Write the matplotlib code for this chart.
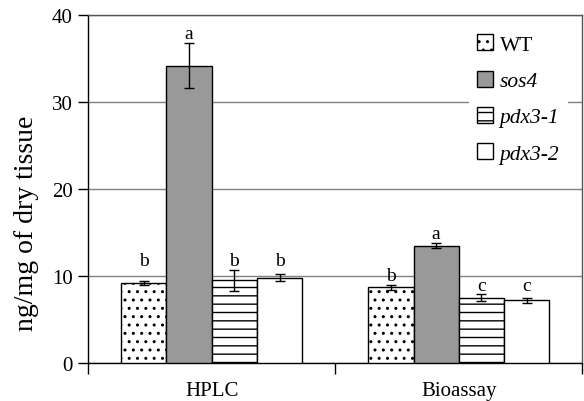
import numpy as np
import matplotlib.pyplot as plt

plt.rcParams['font.family'] = 'Liberation Serif'
plt.rcParams['hatch.linewidth'] = 1.0

groups = ['HPLC', 'Bioassay']
lines = ['WT', 'sos4', 'pdx3-1', 'pdx3-2']
means = {
    'WT':     [9.2, 8.7],
    'sos4':   [34.2, 13.5],
    'pdx3-1': [9.5, 7.5],
    'pdx3-2': [9.8, 7.2],
}
errs = {
    'WT':     [0.2, 0.25],
    'sos4':   [2.6, 0.3],
    'pdx3-1': [1.2, 0.4],
    'pdx3-2': [0.4, 0.25],
}
letters = {
    'WT':     ['b', 'b'],
    'sos4':   ['a', 'a'],
    'pdx3-1': ['b', 'c'],
    'pdx3-2': ['b', 'c'],
}

styles = {
    'WT':     dict(facecolor='white', hatch='..'),
    'sos4':   dict(facecolor='#999999', hatch=None),
    'pdx3-1': dict(facecolor='white', hatch='--'),
    'pdx3-2': dict(facecolor='white', hatch=None),
}

fig = plt.figure(figsize=(5.84, 4.02), dpi=100)
ax = fig.add_axes([0.151, 0.0945, 0.846, 0.8655])

centers = np.arange(len(groups)) + 0.5
width = 0.183

# letters sharing a group sit on one level, just above the tallest error bar
tops = {}
for g in range(len(groups)):
    for name in lines:
        key = (g, letters[name][g])
        top = means[name][g] + errs[name][g]
        tops[key] = max(tops.get(key, 0), top)

for i, name in enumerate(lines):
    x = centers + (i - 1.5) * width
    ax.bar(x, means[name], width, edgecolor='black', linewidth=1,
           label=name, zorder=3, **styles[name])
    ax.errorbar(x, means[name], yerr=errs[name], fmt='none', ecolor='black',
                elinewidth=1, capsize=3.5, capthick=1, zorder=4)
    for g, (xi, t) in enumerate(zip(x, letters[name])):
        ax.text(xi, tops[(g, t)] + 0.55, t, ha='center', va='baseline',
                fontsize=14)

ax.set_xlim(0, 2)
ax.set_ylim(0, 40)
ax.set_yticks([0, 10, 20, 30, 40])
ax.tick_params(axis='y', labelsize=15, length=7, width=1, direction='out',
               pad=4)
ax.set_xticks(centers)
ax.set_xticklabels(groups, fontsize=15)
ax.tick_params(axis='x', which='major', length=0, pad=13)
ax.set_xticks([0, 1, 2], minor=True)
ax.tick_params(axis='x', which='minor', length=8, width=1, direction='out')
ax.yaxis.grid(True, color='#808080', linewidth=1)
ax.set_axisbelow(True)
for s in ax.spines.values():
    s.set_linewidth(1)
ax.spines['top'].set_color('#555555')
ax.spines['right'].set_color('#555555')
ax.set_ylabel('ng/mg of dry tissue', fontsize=20)
ax.yaxis.set_label_coords(-0.10, 0.405)

leg = ax.legend(loc='upper left', bbox_to_anchor=(0.748, 1.0), frameon=True,
                fontsize=15.5, handlelength=0.75, handleheight=0.75,
                labelspacing=0.74, handletextpad=0.3, borderpad=0.4,
                fancybox=False)
leg.get_frame().set_edgecolor('none')
leg.get_frame().set_facecolor('white')
leg.get_frame().set_alpha(1)
for t in leg.get_texts()[1:]:
    t.set_fontstyle('italic')

fig.savefig('out.png', dpi=100)
